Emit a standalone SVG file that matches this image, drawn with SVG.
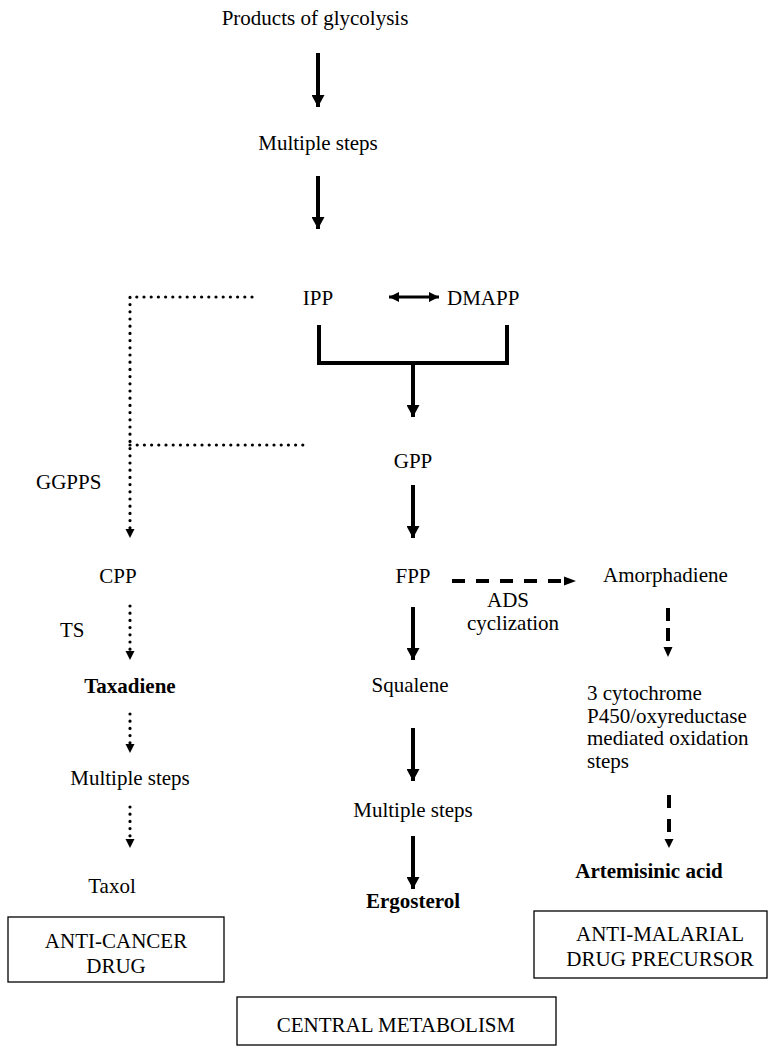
<svg xmlns="http://www.w3.org/2000/svg" width="770" height="1048" viewBox="0 0 770 1048">
<defs>
<style>
text{font-family:"Liberation Serif","Times New Roman",serif;font-size:21px;fill:#000}
.b{font-weight:bold}
.m{text-anchor:middle}
.solid{stroke:#000;stroke-width:4;fill:none}
.dot{stroke:#000;stroke-width:3.2;stroke-linecap:round;stroke-dasharray:0 7.2;fill:none}
.dash{stroke:#000;stroke-width:4;stroke-dasharray:13 11;fill:none}
.box{fill:#fff;stroke:#000;stroke-width:1.3}
</style>
<marker id="ah" viewBox="0 0 12 13" refX="12" refY="6.5" markerWidth="12" markerHeight="13" markerUnits="userSpaceOnUse" orient="auto"><path d="M0,0 L12,6.5 L0,13 Z" fill="#000"/></marker>
<marker id="ahd" viewBox="0 0 9 9" refX="9" refY="4.5" markerWidth="9" markerHeight="9" markerUnits="userSpaceOnUse" orient="auto"><path d="M0,0 L9,4.5 L0,9 Z" fill="#000"/></marker>
<marker id="ahs" viewBox="0 0 10 10" refX="10" refY="5" markerWidth="10" markerHeight="10" markerUnits="userSpaceOnUse" orient="auto-start-reverse"><path d="M0,0 L10,5 L0,10 Z" fill="#000"/></marker>
</defs>
<rect width="770" height="1048" fill="#fff"/>

<g id="connectors">
<line class="solid" x1="318" y1="53" x2="318" y2="107" marker-end="url(#ah)"/>
<line class="solid" x1="318" y1="176" x2="318" y2="229" marker-end="url(#ah)"/>
<line x1="389" y1="297" x2="439" y2="297" stroke="#000" stroke-width="3" marker-start="url(#ahs)" marker-end="url(#ahs)"/>
<path class="solid" d="M319,325 V363 H507 V325"/>
<line class="solid" x1="413" y1="363" x2="413" y2="417" marker-end="url(#ah)"/>
<line class="solid" x1="413" y1="485" x2="413" y2="538" marker-end="url(#ah)"/>
<line class="solid" x1="413" y1="607" x2="413" y2="660" marker-end="url(#ah)"/>
<line class="solid" x1="413" y1="728" x2="413" y2="781" marker-end="url(#ah)"/>
<line class="solid" x1="413" y1="836" x2="413" y2="889" marker-end="url(#ah)"/>
<path class="dot" d="M252,297 H130 V530"/>
<path d="M125.5,529 L134.5,529 L130,538 Z" fill="#000"/>
<line class="dot" x1="130" y1="445" x2="307" y2="445"/>
<line class="dot" x1="130" y1="606" x2="130" y2="652"/>
<path d="M125.5,651 L134.5,651 L130,660 Z" fill="#000"/>
<line class="dot" x1="130" y1="714" x2="130" y2="745"/>
<path d="M125.5,744 L134.5,744 L130,753 Z" fill="#000"/>
<line class="dot" x1="130" y1="807" x2="130" y2="840"/>
<path d="M125.5,839 L134.5,839 L130,848 Z" fill="#000"/>
<line class="dash" x1="452" y1="581" x2="565" y2="581"/>
<path d="M564,576.5 L576,581 L564,585.5 Z" fill="#000"/>
<line x1="668" y1="608" x2="668" y2="645" stroke="#000" stroke-width="4" stroke-dasharray="13 7"/>
<path d="M663.5,647 L672.5,647 L668,657 Z" fill="#000"/>
<line x1="669" y1="795" x2="669" y2="834" stroke="#000" stroke-width="4" stroke-dasharray="13 11"/>
<path d="M664.5,839 L673.5,839 L669,848 Z" fill="#000"/>
</g>

<g id="glycolysis"><text class="m" x="315" y="25">Products of glycolysis</text></g>
<g id="multiple-steps-1"><text class="m" x="318" y="150">Multiple steps</text></g>
<g id="ipp"><text class="m" x="318" y="305">IPP</text></g>
<g id="dmapp"><text x="447" y="305">DMAPP</text></g>
<g id="gpp"><text class="m" x="413" y="468">GPP</text></g>
<g id="ggpps"><text x="36" y="489">GGPPS</text></g>
<g id="fpp"><text class="m" x="413" y="583">FPP</text></g>
<g id="cpp"><text class="m" x="118" y="583">CPP</text></g>
<g id="amorphadiene"><text x="603" y="582">Amorphadiene</text></g>
<g id="ads"><text class="m" x="508" y="607">ADS</text><text class="m" x="513" y="630">cyclization</text></g>
<g id="ts"><text x="60" y="637">TS</text></g>
<g id="taxadiene"><text class="b m" x="130" y="693">Taxadiene</text></g>
<g id="squalene"><text class="m" x="410" y="692">Squalene</text></g>
<g id="p450"><text x="587" y="700">3 cytochrome</text><text x="587" y="723">P450/oxyreductase</text><text x="587" y="745">mediated oxidation</text><text x="587" y="768">steps</text></g>
<g id="multiple-steps-2"><text class="m" x="130" y="785">Multiple steps</text></g>
<g id="multiple-steps-3"><text class="m" x="413" y="817">Multiple steps</text></g>
<g id="artemisinic"><text class="b m" x="649" y="878">Artemisinic acid</text></g>
<g id="taxol"><text class="m" x="112" y="893">Taxol</text></g>
<g id="ergosterol"><text class="b m" x="413" y="908">Ergosterol</text></g>
<g id="anticancer"><rect class="box" x="8" y="917" width="216" height="65"/><text class="m" x="116" y="948">ANTI-CANCER</text><text class="m" x="116" y="973">DRUG</text></g>
<g id="antimalarial"><rect class="box" x="534" y="911" width="233" height="67"/><text class="m" x="660" y="941">ANTI-MALARIAL</text><text class="m" x="660" y="966">DRUG PRECURSOR</text></g>
<g id="central"><rect class="box" x="237" y="997" width="319" height="48"/><text class="m" x="396" y="1032">CENTRAL METABOLISM</text></g>
</svg>
